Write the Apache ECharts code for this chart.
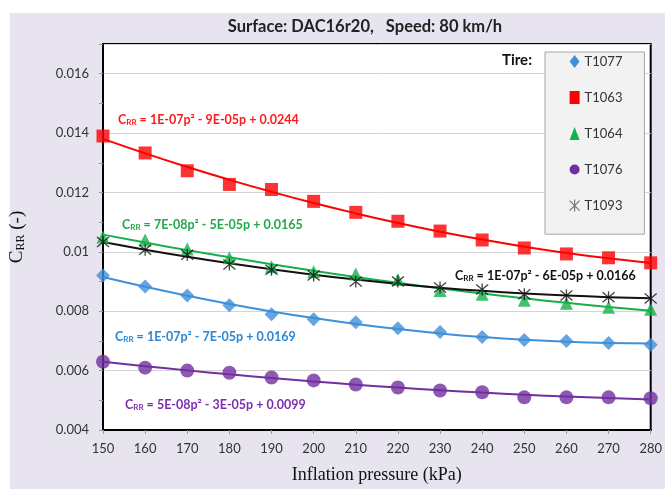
<!DOCTYPE html>
<html><head><meta charset="utf-8">
<script src="https://cdn.jsdelivr.net/npm/echarts@6/dist/echarts.min.js"></script>
<style>html,body{margin:0;padding:0;background:#fff}#c{width:665px;height:489px}</style>
</head><body><div id="c"></div>
<script>
const pressure = [150,160,170,180,190,200,210,220,230,240,250,260,270,280];
const t1077 = [0.0092,0.00883,0.00853,0.0082,0.0079,0.00773,0.00763,0.00743,0.0073,0.00713,0.00703,0.0070,0.00693,0.00687];
const t1063 = [0.0139,0.01333,0.01273,0.01227,0.0121,0.0117,0.01133,0.01103,0.0107,0.0104,0.01013,0.00993,0.0098,0.00963];
const t1064 = [0.0105,0.0104,0.0101,0.0098,0.0095,0.00933,0.00925,0.00907,0.0087,0.00857,0.00837,0.00827,0.00813,0.00807];
const t1076 = [0.0063,0.0061,0.0060,0.00593,0.00577,0.00567,0.00553,0.00543,0.00533,0.00527,0.0051,0.0051,0.0051,0.00507];
const t1093 = [0.01033,0.01007,0.0099,0.00957,0.0094,0.0092,0.0090,0.0090,0.0088,0.00873,0.00857,0.00853,0.00847,0.00843];
const seriesNames = ['T1077','T1063','T1064','T1076','T1093'];
const equations = ['1E-07p² - 7E-05p + 0.0169','1E-07p² - 9E-05p + 0.0244','7E-08p² - 5E-05p + 0.0165','5E-08p² - 3E-05p + 0.0099','1E-07p² - 6E-05p + 0.0166'];

const asterisk = 'path://M0,0L10,10M10,0L0,10M5,-1L5,11';
const colors = ['#3F8FDA','#FF0000','#16B04A','#7030A0','#111111'];
const symbols = ['diamond','rect','triangle','circle',asterisk];
const sizes = [14,13,13,14,12];
const datasets = [t1077,t1063,t1064,t1076,t1093];

// polynomial (order 2) trendline of each measured series, as in the original spreadsheet chart
function quadFit(xs, ys){
  const x0 = 215;
  let S=[0,0,0,0,0], T=[0,0,0];
  xs.forEach((x,i)=>{ const u=(x-x0)/100; let p=1;
    for(let k=0;k<5;k++){ S[k]+=p; if(k<3) T[k]+=p*ys[i]; p*=u; } });
  const A=[[S[0],S[1],S[2],T[0]],[S[1],S[2],S[3],T[1]],[S[2],S[3],S[4],T[2]]];
  for(let c=0;c<3;c++){ for(let r=c+1;r<3;r++){ const f=A[r][c]/A[c][c]; for(let k=c;k<4;k++) A[r][k]-=f*A[c][k]; } }
  const b=[0,0,0];
  for(let r=2;r>=0;r--){ let s=A[r][3]; for(let k=r+1;k<3;k++) s-=A[r][k]*b[k]; b[r]=s/A[r][r]; }
  return xs.map(x=>{ const u=(x-x0)/100; return [x, b[0]+b[1]*u+b[2]*u*u]; });
}

const chart = echarts.init(document.getElementById('c'));
function pair(arr){ return pressure.map((p,i)=>[p,arr[i]]); }
const series = [];
datasets.forEach((d,i)=>{
  series.push({
    name: seriesNames[i], type:'line', data: quadFit(pressure, d), smooth: true,
    showSymbol:false, symbol:'none', lineStyle:{color: colors[i], width: 2}, z: 2, silent:true,
    legendHoverLink:false
  });
  series.push({
    name: seriesNames[i], type:'scatter', data: pair(d),
    symbol: symbols[i], symbolSize: sizes[i],
    itemStyle: i===4 ? {color:'#111', borderColor:'#111', borderWidth:1.3} : {color: colors[i]},
    z: 3
  });
});

const eqPos = [[115,339,'#2E86D0'],[118,122,'#FF1A1A'],[122,227,'#22A84C'],[125,407,'#7A2FB0'],[455,278,'#111111']];
const eqGraphics = equations.map((e,i)=>({
  type:'text', left: eqPos[i][0], top: eqPos[i][1]-9, z: 10,
  style:{
    text: '{c|C}{s|RR}{c| = ' + e + '}',
    rich:{
      c:{fill:eqPos[i][2], fontSize:12.5, fontWeight:'bold', fontFamily:'Lato', verticalAlign:'bottom', lineHeight:15},
      s:{fill:eqPos[i][2], fontSize:8, fontWeight:'bold', fontFamily:'Lato', verticalAlign:'bottom', lineHeight:11}
    }
  }
}));

chart.setOption({
  animation:false,
  backgroundColor:'#ffffff',
  graphic:[
    {type:'rect', shape:{x:10,y:13,width:660,height:480}, style:{fill:'#E7E3EF'}, z:-10, silent:true},
    {type:'text', left:502, top:53, z:10, style:{text:'Tire:', fill:'#111', fontSize:15, fontWeight:'bold', fontFamily:'Lato'}}
  ].concat(eqGraphics),
  title:{text:'Surface: DAC16r20,   Speed: 80 km/h', left:360, textAlign:'center', top:13,
    textStyle:{fontSize:16.5, fontWeight:'bold', fontFamily:'Lato', color:'#222'}},
  legend:{
    orient:'vertical', left:545, top:52, width:102,
    backgroundColor:'#F2F2F2', borderColor:'#A6A6A6', borderWidth:1,
    padding:[3,22,22,24], itemGap:23, itemWidth:10, itemHeight:13,
    textStyle:{fontSize:13, fontFamily:'Lato', color:'#333'},
    data: seriesNames.map((n,i)=>({name:n, icon: symbols[i],
      itemStyle: i===4 ? {color:'#777', borderColor:'#777', borderWidth:1.2} : {color:colors[i]}}))
  },
  grid:{left:101, top:44, right:7, bottom:55, show:true, backgroundColor:'#fff', borderColor:'#000', borderWidth:2, containLabel:false},
  xAxis:{
    type:'value', min:150, max:280, interval:10,
    name:'Inflation pressure (kPa)', nameLocation:'middle', nameGap:36,
    nameTextStyle:{fontFamily:'Liberation Serif', fontSize:18, color:'#111'},
    axisLine:{lineStyle:{color:'#000', width:2}},
    axisTick:{show:true, length:4, lineStyle:{color:'#999'}},
    axisLabel:{fontSize:13, fontFamily:'Lato', color:'#333', margin:12},
    splitLine:{show:false}
  },
  yAxis:{
    type:'value', min:0.004, max:0.017, interval:0.002,
    name:'{c|C}{s|RR}{c| (-)}', nameLocation:'middle', nameGap:76, nameRotate:90,
    nameTextStyle:{rich:{
      c:{fontFamily:'Liberation Serif', fontSize:19, color:'#111', verticalAlign:'bottom', lineHeight:20},
      s:{fontFamily:'Liberation Serif', fontSize:12, color:'#111', verticalAlign:'bottom', lineHeight:14}}},
    axisLine:{show:true, lineStyle:{color:'#000', width:2}},
    axisTick:{show:true, length:4, lineStyle:{color:'#999'}},
    minorTick:{show:true, splitNumber:2, length:4, lineStyle:{color:'#999'}},
    axisLabel:{fontSize:13, fontFamily:'Lato', color:'#333', margin:14, showMaxLabel:false,
      formatter: v => String(+v.toFixed(3))},
    splitLine:{show:true, lineStyle:{color:'#D4D4D4', width:1}}
  },
  series: series
});
</script></body></html>
